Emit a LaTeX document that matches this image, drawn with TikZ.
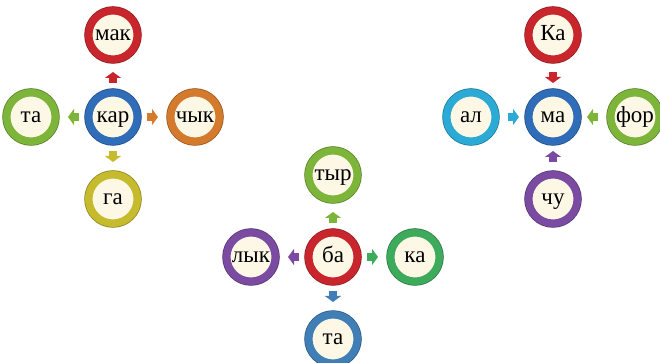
\documentclass[tikz,border=0pt]{standalone}
\usepackage{fontspec}
\setmainfont{Liberation Serif}
\usetikzlibrary{positioning,arrows.meta}

\definecolor{cream}{HTML}{FDF8E6}
\definecolor{ringred}{HTML}{C9252C}
\definecolor{ringblue}{HTML}{2F6DB8}
\definecolor{ringlime}{HTML}{7DB53A}
\definecolor{ringorange}{HTML}{D47A2C}
\definecolor{ringyellow}{HTML}{C6BB2C}
\definecolor{ringpurple}{HTML}{7A4BA0}
\definecolor{ringgreen}{HTML}{3DAA5C}
\definecolor{ringsteel}{HTML}{3F7FB6}
\definecolor{ringcyan}{HTML}{2AAAD4}

\tikzset{
	syl/.style={circle, draw=#1, line width=7.5pt, fill=cream, minimum size=48.5pt, inner sep=0pt,
		font=\fontsize{23}{28}\selectfont, text height=10.6pt, text depth=0pt,
		preaction={draw=#1!70!black, line width=9pt}},
	outflow/.style={draw=#1, line width=8pt, -{Triangle[width=16pt,length=6pt]},
		shorten <=6pt, shorten >=9pt},
	inflow/.style={draw=#1, line width=8pt, -{Triangle[width=16pt,length=6pt]},
		shorten <=9pt, shorten >=6pt},
}

\begin{document}
\begin{tikzpicture}[node distance=26pt]
		\useasboundingbox (0,0) rectangle (660pt,363pt);
		%first word
		\node[syl=ringblue] (kar) at (113pt,246pt) {кар};
		\node[syl=ringred, above=of kar] (mak) {мак};
		\node[syl=ringlime, left=of kar] (taL) {та};
		\node[syl=ringorange, right=of kar] (chyk) {чык};
		\node[syl=ringyellow, below=of kar] (ga) {га};
		\draw[outflow=ringred] (kar) -- (mak);
		\draw[outflow=ringlime] (kar) -- (taL);
		\draw[outflow=ringorange] (kar) -- (chyk);
		\draw[outflow=ringyellow] (kar) -- (ga);
		%second word
		\node[syl=ringred] (ba) at (333pt,106pt) {ба};
		\node[syl=ringlime, above=of ba] (tyr) {тыр};
		\node[syl=ringpurple, left=of ba] (lyk) {лык};
		\node[syl=ringgreen, right=of ba] (kaR) {ка};
		\node[syl=ringsteel, below=of ba] (taB) {та};
		\draw[outflow=ringlime] (ba) -- (tyr);
		\draw[outflow=ringpurple] (ba) -- (lyk);
		\draw[outflow=ringgreen] (ba) -- (kaR);
		\draw[outflow=ringsteel] (ba) -- (taB);
		%third word
		\node[syl=ringblue] (ma) at (553pt,246pt) {ма};
		\node[syl=ringred, above=of ma] (Ka) {Ка};
		\node[syl=ringcyan, left=of ma] (al) {ал};
		\node[syl=ringlime, right=of ma] (for) {фор};
		\node[syl=ringpurple, below=of ma] (chu) {чу};
		\draw[inflow=ringred] (Ka) -- (ma);
		\draw[inflow=ringcyan] (al) -- (ma);
		\draw[inflow=ringlime] (for) -- (ma);
		\draw[inflow=ringpurple] (chu) -- (ma);
	\end{tikzpicture}
\end{document}
